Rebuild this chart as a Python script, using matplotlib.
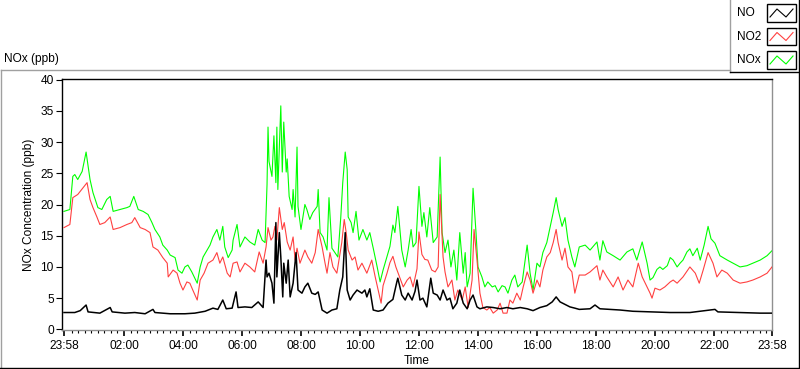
import numpy as np
import matplotlib
matplotlib.use('Agg')
import matplotlib.pyplot as plt
from matplotlib.lines import Line2D
from matplotlib.patches import Rectangle

plt.rcParams['font.family'] = ['Liberation Sans', 'DejaVu Sans']
plt.rcParams['font.size'] = 8.6

# time axis: minutes after 23:58, values in ppb
nox_min = [0, 12, 18, 22, 28, 37, 45, 53, 59, 69,
           77, 87, 94, 100, 114, 128, 134, 142, 151, 161,
           171, 179, 185, 195, 201, 210, 216, 226, 232, 240,
           246, 252, 260, 271, 277, 283, 291, 297, 303, 311,
           317, 323, 327, 334, 342, 344, 352, 358, 368, 378,
           388, 395, 403, 409, 413, 415, 417, 423, 427, 431,
           433, 435, 441, 444, 445, 447, 452, 454, 458, 464,
           466, 470, 474, 476, 482, 486, 490, 494, 500, 506,
           515, 517, 521, 527, 535, 539, 545, 551, 557, 563,
           567, 572, 576, 578, 584, 588, 594, 600, 608, 616,
           622, 629, 637, 643, 649, 657, 663, 669, 673, 679,
           687, 694, 700, 706, 710, 716, 722, 728, 732, 738,
           744, 751, 759, 765, 769, 775, 781, 787, 793, 799,
           805, 812, 816, 820, 826, 832, 838, 842, 850, 856,
           862, 871, 877, 883, 891, 897, 903, 911, 917, 923,
           932, 938, 942, 948, 954, 962, 968, 974, 982, 989,
           995, 1001, 1005, 1013, 1019, 1025, 1033, 1039, 1048, 1060,
           1070, 1084, 1090, 1096, 1104, 1117, 1131, 1145, 1157, 1165,
           1176, 1186, 1192, 1198, 1206, 1212, 1218, 1227, 1233, 1239,
           1247, 1253, 1259, 1267, 1273, 1279, 1288, 1294, 1302, 1310,
           1316, 1324, 1334, 1349, 1361, 1375, 1389, 1401, 1416, 1430,
           1440]
nox_ppb = [18.9, 19.2, 24.5, 24.8, 24.0, 25.3, 28.4, 24.0, 21.9, 19.5,
           19.2, 20.8, 21.3, 18.9, 19.2, 19.5, 19.7, 21.3, 19.2, 18.9,
           18.4, 17.1, 16.0, 14.8, 13.5, 12.7, 11.9, 11.5, 9.5, 9.0,
           10.0, 10.3, 9.2, 7.4, 10.0, 11.6, 12.7, 13.5, 14.8, 16.0,
           14.3, 16.5, 13.2, 11.5, 12.7, 14.3, 16.8, 13.2, 14.8, 14.0,
           13.5, 16.0, 14.3, 13.9, 23.2, 32.4, 26.9, 24.5, 31.0, 23.5,
           32.4, 22.4, 35.8, 25.2, 27.7, 33.2, 25.2, 27.3, 21.3, 19.2,
           22.4, 18.0, 29.2, 19.7, 16.0, 18.0, 20.0, 19.2, 17.6, 18.7,
           19.7, 22.4, 15.5, 14.8, 12.7, 21.1, 13.0, 12.3, 11.6, 18.0,
           23.5, 28.4, 25.6, 18.0, 17.1, 15.5, 18.9, 14.3, 16.0, 14.3,
           15.5, 13.0, 10.0, 7.6, 9.5, 11.7, 13.3, 16.7, 15.5, 19.7,
           12.7, 10.0, 12.7, 16.0, 13.2, 13.9, 22.9, 16.5, 18.7, 14.8,
           19.5, 13.9, 14.8, 27.6, 15.5, 12.3, 14.3, 10.0, 12.7, 7.9,
           15.5, 9.0, 12.3, 6.8, 9.0, 22.6, 15.5, 10.0, 8.4, 6.8,
           7.6, 6.8, 7.0, 6.0, 7.0, 6.8, 5.8, 7.9, 8.7, 6.8,
           7.6, 11.1, 13.5, 9.0, 6.3, 10.6, 10.0, 12.3, 13.9, 16.5,
           18.7, 21.1, 19.2, 16.5, 17.9, 14.3, 11.6, 10.0, 13.2, 13.5,
           12.7, 14.0, 11.1, 14.2, 12.4, 11.8, 11.1, 12.4, 12.9, 11.1,
           14.0, 10.6, 7.9, 8.3, 9.6, 10.0, 9.6, 10.2, 11.5, 11.1,
           10.0, 10.6, 11.1, 12.4, 12.9, 11.8, 13.0, 11.1, 13.5, 16.5,
           14.5, 13.8, 11.8, 11.1, 10.6, 10.0, 10.2, 10.6, 11.1, 11.8,
           12.6]

no2_min = [0, 12, 18, 28, 39, 47, 53, 59, 67, 73,
           83, 94, 100, 114, 128, 138, 144, 155, 165, 175,
           181, 191, 201, 210, 212, 222, 230, 236, 242, 250,
           256, 262, 271, 277, 285, 293, 303, 311, 317, 323,
           332, 338, 344, 352, 358, 368, 378, 388, 397, 405,
           411, 415, 421, 425, 429, 433, 438, 444, 448, 454,
           460, 466, 470, 474, 480, 490, 496, 504, 511, 517,
           525, 531, 535, 541, 547, 555, 565, 570, 574, 578,
           586, 592, 598, 606, 616, 626, 633, 639, 645, 649,
           657, 663, 669, 675, 681, 690, 698, 704, 710, 718,
           722, 728, 734, 740, 748, 755, 761, 765, 771, 775,
           781, 789, 795, 801, 810, 816, 822, 830, 834, 840,
           846, 852, 860, 866, 873, 881, 887, 893, 901, 907,
           913, 921, 928, 934, 942, 948, 954, 962, 968, 974,
           982, 989, 995, 1001, 1005, 1013, 1019, 1025, 1033, 1039,
           1048, 1060, 1070, 1084, 1090, 1096, 1104, 1117, 1127, 1137,
           1147, 1157, 1168, 1176, 1186, 1192, 1196, 1202, 1212, 1222,
           1233, 1239, 1247, 1259, 1273, 1284, 1292, 1300, 1310, 1320,
           1328, 1338, 1349, 1361, 1375, 1389, 1401, 1416, 1430, 1440]
no2_ppb = [16.3, 16.8, 21.1, 21.6, 22.7, 23.5, 20.8, 19.5, 18.0, 16.8,
           17.1, 18.0, 16.0, 16.3, 16.8, 17.1, 17.9, 16.3, 16.0, 15.5,
           13.2, 12.7, 11.5, 10.6, 8.4, 9.5, 9.0, 7.4, 6.3, 7.6,
           7.4, 6.3, 4.7, 7.9, 9.0, 10.6, 11.1, 12.3, 10.6, 11.6,
           9.0, 8.4, 10.6, 10.8, 9.2, 10.6, 10.0, 9.2, 12.4, 10.6,
           13.2, 16.3, 14.3, 14.8, 16.5, 14.3, 19.5, 16.0, 17.1, 14.0,
           12.7, 14.8, 11.1, 13.0, 10.6, 12.7, 11.6, 10.6, 12.3, 16.0,
           13.2, 10.6, 9.0, 12.3, 10.0, 9.0, 13.9, 17.6, 15.5, 12.7,
           11.1, 11.6, 9.5, 10.6, 9.0, 11.1, 8.4, 6.3, 4.2, 7.0,
           9.0, 10.7, 11.7, 10.0, 8.7, 6.8, 7.9, 8.4, 6.8, 9.7,
           15.6, 12.0, 11.2, 11.1, 9.5, 9.2, 10.0, 21.6, 11.6, 9.2,
           6.8, 7.9, 4.7, 6.3, 4.7, 6.8, 3.5, 7.9, 16.0, 11.1,
           5.8, 3.5, 3.1, 3.5, 2.6, 3.1, 4.2, 2.6, 2.6, 4.7,
           4.2, 5.8, 4.7, 6.8, 9.2, 7.9, 5.8, 7.9, 6.8, 9.5,
           11.6, 12.3, 13.9, 16.0, 13.9, 11.1, 13.0, 10.0, 9.2, 5.8,
           8.7, 8.7, 9.2, 10.2, 7.9, 9.5, 8.4, 6.8, 8.4, 6.3,
           7.9, 6.8, 10.6, 8.4, 6.8, 5.8, 5.0, 6.6, 6.3, 6.8,
           7.6, 7.9, 7.4, 8.4, 10.0, 9.0, 7.4, 9.5, 12.3, 10.6,
           8.4, 9.5, 9.0, 7.9, 7.4, 7.6, 7.9, 8.4, 9.0, 10.0]

no_min = [0, 22, 33, 45, 49, 73, 94, 98, 124, 144,
          165, 181, 185, 216, 246, 266, 287, 303, 313, 323,
          330, 342, 350, 354, 368, 382, 395, 405, 411, 413,
          417, 423, 427, 431, 433, 438, 441, 445, 447, 452,
          456, 460, 466, 472, 476, 484, 490, 496, 504, 511,
          517, 525, 535, 545, 555, 561, 567, 572, 576, 582,
          588, 596, 606, 612, 616, 622, 629, 639, 649, 659,
          669, 677, 679, 687, 694, 700, 708, 714, 718, 724,
          730, 738, 746, 751, 759, 765, 771, 779, 785, 791,
          799, 805, 812, 820, 826, 832, 840, 846, 860, 873,
          887, 901, 913, 928, 942, 954, 968, 982, 993, 1001,
          1009, 1019, 1029, 1039, 1048, 1070, 1080, 1090, 1131, 1157,
          1192, 1233, 1273, 1324, 1330, 1375, 1416, 1440]
no_ppb = [2.7, 2.7, 3.0, 3.9, 2.8, 2.6, 3.5, 2.8, 2.6, 2.7,
          2.5, 3.2, 2.7, 2.5, 2.5, 2.6, 2.9, 3.4, 3.2, 4.7,
          3.3, 3.4, 6.0, 3.5, 3.6, 3.5, 4.4, 3.5, 11.1, 8.4,
          9.0, 7.4, 4.2, 17.1, 8.4, 15.5, 11.6, 5.2, 10.6, 7.4,
          11.1, 5.2, 7.4, 12.3, 6.3, 5.8, 6.8, 7.4, 5.8, 5.6,
          6.0, 3.1, 2.6, 3.1, 3.3, 6.3, 8.4, 15.5, 6.3, 4.7,
          5.5, 6.3, 5.8, 6.3, 5.2, 6.5, 3.1, 2.9, 3.1, 4.2,
          4.8, 7.6, 8.2, 5.5, 4.7, 5.8, 4.7, 6.1, 7.9, 4.7,
          5.0, 3.6, 8.2, 5.8, 5.5, 4.7, 6.3, 4.7, 5.0, 3.3,
          4.2, 6.3, 4.2, 3.3, 4.7, 5.5, 3.6, 3.3, 3.6, 3.5,
          3.3, 3.5, 3.3, 3.5, 3.3, 3.0, 3.5, 3.8, 4.4, 5.2,
          4.4, 4.0, 3.6, 3.4, 3.2, 3.3, 3.9, 3.3, 3.1, 2.9,
          2.8, 2.7, 2.7, 3.2, 2.8, 2.7, 2.6, 2.6]

tick_min = [0, 122, 242, 362, 482, 602, 722, 842, 962, 1082, 1202, 1322, 1440]
tick_labels = ['23:58', '02:00', '04:00', '06:00', '08:00', '10:00', '12:00',
               '14:00', '16:00', '18:00', '20:00', '22:00', '23:58']

W, H = 800, 369
fig = plt.figure(figsize=(W / 100, H / 100), dpi=100)

def fx(x):
    return x / W

def fy(y):
    return 1 - y / H

ax = fig.add_axes([fx(62), fy(330), fx(772) - fx(62), fy(79) - fy(330)])
ax.plot(nox_min, nox_ppb, color='#00ff00', lw=0.8, zorder=2)
ax.plot(no2_min, no2_ppb, color='#ff4040', lw=0.8, zorder=3)
ax.plot(no_min, no_ppb, color='black', lw=1.1, zorder=4)

ax.set_xlim(-4, 1440)
ax.set_ylim(-0.1, 40.1)
ax.set_yticks(np.arange(0, 41, 5))
ax.set_xticks(tick_min)
ax.set_xticklabels(tick_labels)
minors = [m for m in np.arange(2, 1440, 40 / 3) if min(abs(m - t) for t in tick_min) > 3]
ax.set_xticks(minors, minor=True)
ax.tick_params(axis='y', direction='out', length=4, width=0.8, pad=2, colors='black')
ax.tick_params(axis='x', which='major', direction='out', length=4, width=1.2, pad=3)
ax.tick_params(axis='x', which='minor', direction='out', length=2.5, width=0.8)

for side in ['top', 'left']:
    ax.spines[side].set_color('black')
    ax.spines[side].set_linewidth(1.0)
for side in ['bottom', 'right']:
    ax.spines[side].set_color('#909090')
    ax.spines[side].set_linewidth(1.0)

ax.set_xlabel('Time', labelpad=2)
ax.set_ylabel('NOx Concentration (ppb)', labelpad=4)

fig.text(fx(4), fy(59), 'NOx (ppb)', ha='left', va='center')

# outer panel
def fline(x0, y0, x1, y1, c):
    fig.add_artist(Line2D([fx(x0), fx(x1)], [fy(y0), fy(y1)], color=c, lw=1.0,
                          transform=fig.transFigure))

fline(0.5, 69.5, 730, 69.5, '#a0a0a0')
fline(0.5, 69.5, 0.5, 368, '#a0a0a0')
fline(0, 367.5, 799, 367.5, 'black')
fline(799, 0, 799, 368, 'black')
# legend box
fline(730, 0, 730, 72, '#a0a0a0')
fline(730, 72, 799, 72, 'black')

leg_names = ['NO', 'NO2', 'NOx']
leg_colors = ['black', '#ff4040', '#00ff00']
for i, (name, col) in enumerate(zip(leg_names, leg_colors)):
    yc = 13 + i * 23.5
    fig.text(fx(737), fy(yc), name, ha='left', va='center')
    fig.add_artist(Rectangle((fx(767), fy(yc + 8.5)), fx(29), fy(0) - fy(17),
                             facecolor='white', edgecolor='black', lw=1.0,
                             transform=fig.transFigure))
    zx = [770, 777, 786, 793]
    zy = [yc + 4, yc - 4, yc + 4, yc - 4]
    fig.add_artist(Line2D([fx(v) for v in zx], [fy(v) for v in zy], color=col,
                          lw=0.8, transform=fig.transFigure))

fig.savefig('out.png', dpi=100)
